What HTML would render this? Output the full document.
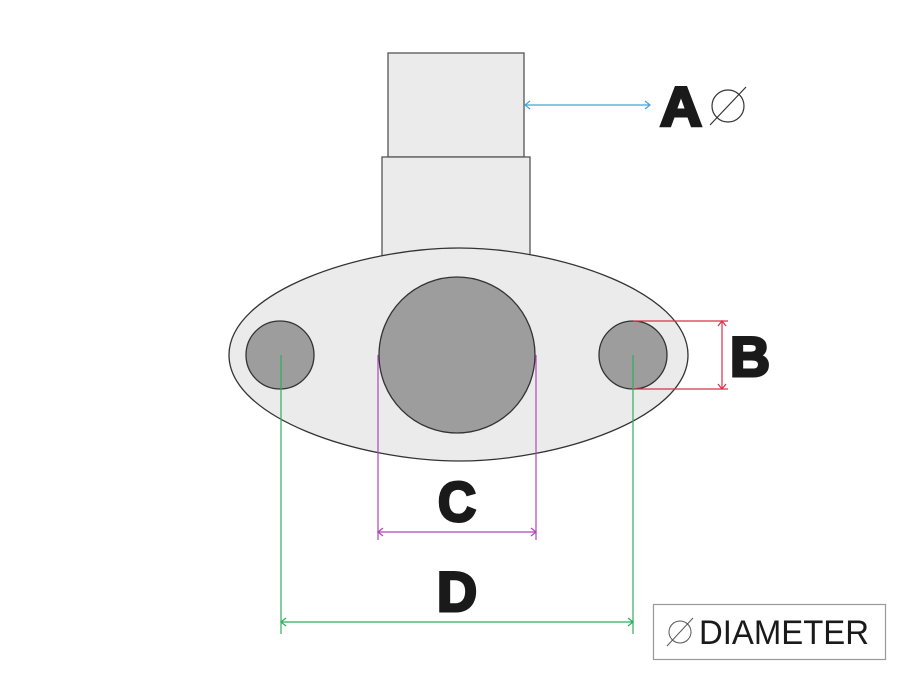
<!DOCTYPE html>
<html><head><style>html,body{margin:0;padding:0;background:#fff;width:900px;height:675px;overflow:hidden}</style></head>
<body>
<svg width="900" height="675" viewBox="0 0 900 675" xmlns="http://www.w3.org/2000/svg">
<rect x="388" y="53" width="136" height="104" fill="#ebebeb" stroke="#555" stroke-width="1.3"/>
<rect x="382" y="157" width="148" height="100" fill="#ebebeb" stroke="#555" stroke-width="1.3"/>
<path d="M229,355 C229,292 360,248 459,248 C558,248 688,292 688,355 C688,418 558,461 459,461 C360,461 229,418 229,355 Z" fill="#ebebeb" stroke="#333" stroke-width="1.3"/>
<circle cx="457" cy="355" r="78" fill="#9d9d9d" stroke="#333" stroke-width="1.3"/>
<circle cx="280" cy="355" r="34" fill="#9d9d9d" stroke="#333" stroke-width="1.3"/>
<circle cx="633" cy="355" r="34" fill="#9d9d9d" stroke="#333" stroke-width="1.3"/>
<g stroke="#3aa8d8" stroke-width="1.2" fill="none">
<line x1="525" y1="105" x2="650" y2="105"/><path d="M530,101 L525,105 L530,109 M645,101 L650,105 L645,109"/></g>
<g stroke="#d8324a" stroke-width="1.2" fill="none">
<line x1="633" y1="321" x2="728" y2="321"/><line x1="633" y1="389" x2="728" y2="389"/><line x1="722" y1="321" x2="722" y2="389"/>
<path d="M718,326 L722,321 L726,326 M718,384 L722,389 L726,384"/></g>
<g stroke="#b045b8" stroke-width="1.2" fill="none">
<line x1="378" y1="355" x2="378" y2="540"/><line x1="536" y1="355" x2="536" y2="540"/><line x1="378" y1="532" x2="536" y2="532"/>
<path d="M383,528 L378,532 L383,536 M531,528 L536,532 L531,536"/></g>
<g stroke="#2fae5c" stroke-width="1.2" fill="none">
<line x1="281" y1="355" x2="281" y2="634"/><line x1="633" y1="355" x2="633" y2="634"/><line x1="281" y1="622" x2="633" y2="622"/>
<path d="M286,618 L281,622 L286,626 M628,618 L633,622 L628,626"/></g>
<g font-family="Liberation Sans, sans-serif" font-weight="900" fill="#1a1a1a" font-size="56" stroke="#1a1a1a" stroke-width="3">
<text x="660" y="126" textLength="42" lengthAdjust="spacingAndGlyphs">A</text>
<text x="730" y="376" textLength="40" lengthAdjust="spacingAndGlyphs">B</text>
<text x="438" y="521" textLength="38" lengthAdjust="spacingAndGlyphs">C</text>
<text x="437" y="611" textLength="40" lengthAdjust="spacingAndGlyphs">D</text>
</g>
<g stroke="#333" stroke-width="1.2" fill="none">
<circle cx="728" cy="106" r="16"/><line x1="710" y1="125" x2="746" y2="87"/></g>
<rect x="653.5" y="604.5" width="232" height="55" fill="#fff" stroke="#999" stroke-width="1.2"/>
<g stroke="#555" stroke-width="1" fill="none"><circle cx="680" cy="632" r="11"/><line x1="667" y1="646" x2="693" y2="618"/></g>
<text x="699" y="644" font-family="Liberation Sans, sans-serif" font-size="34" fill="#1a1a1a" textLength="170" lengthAdjust="spacingAndGlyphs">DIAMETER</text>
</svg>
</body></html>
